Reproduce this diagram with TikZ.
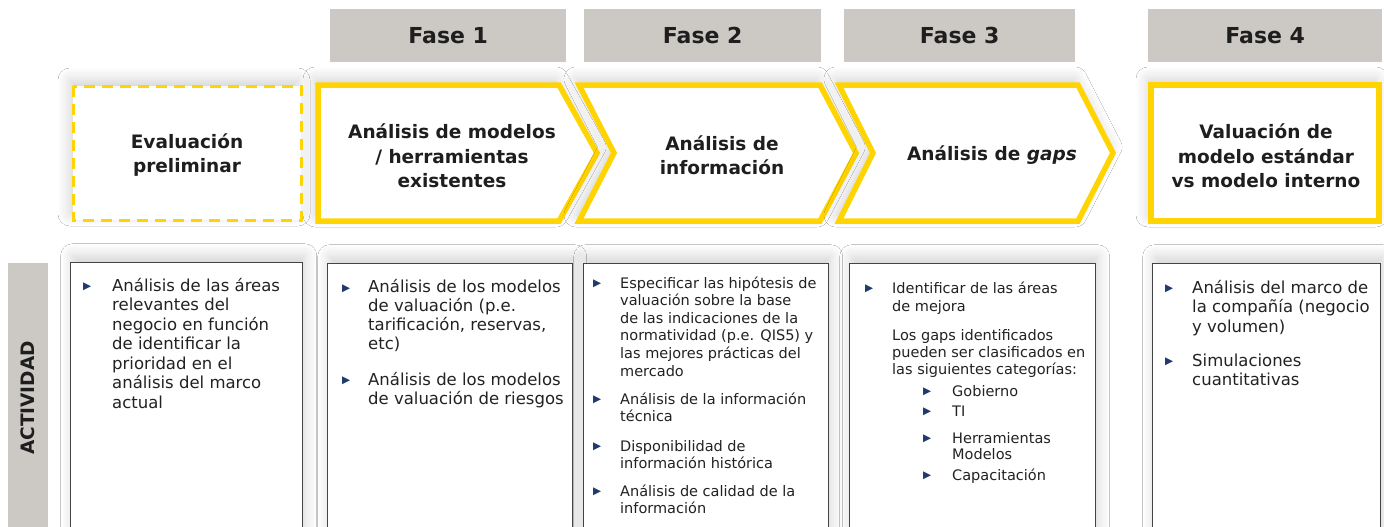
\documentclass[tikz,border=0pt]{standalone}
\usepackage{fontspec}
\setmainfont{DejaVu Sans}
\usetikzlibrary{shadows.blur}
\definecolor{eyyellow}{HTML}{FFD400}
\definecolor{hdrgray}{HTML}{CCC9C4}
\definecolor{txtdark}{HTML}{1E1E1E}
\definecolor{txtbody}{HTML}{222222}
\definecolor{navy}{HTML}{1F3A6E}
\definecolor{boxedge}{HTML}{444444}
\newcommand{\bulglyph}{\textcolor{navy}{\fontsize{10.5}{10.5}\selectfont ▶}}
\tikzset{
  fasebox/.style={fill=hdrgray, draw=none, minimum height=53pt, anchor=north west, inner sep=0pt,
    font=\bfseries\fontsize{22}{26}\selectfont, text=txtdark},
  softshadow/.style={blur shadow={shadow xshift=-3pt, shadow yshift=6pt, shadow blur radius=12pt, shadow blur steps=12, shadow opacity=18}},
  chev/.style={draw=eyyellow, line width=5.5pt, fill=white, line join=miter, softshadow},
  headtxt/.style={align=center, inner sep=0pt, text=txtdark, font=\bfseries\fontsize{18.5}{24.5}\selectfont},
  actbox/.style={draw=boxedge, line width=1.4pt, fill=white, anchor=north west, inner sep=0pt,
    blur shadow={shadow xshift=2pt, shadow yshift=7pt, shadow blur radius=12pt, shadow blur steps=12, shadow opacity=18}},
  bul/.style={anchor=base west, inner sep=0pt},
  itemtxt/.style={anchor=base west, inner sep=0pt, align=left, text=txtbody},
  bigtxt/.style={itemtxt, font=\fontsize{16.5}{19.5}\selectfont},
  midtxt/.style={itemtxt, font=\fontsize{16.5}{18.7}\selectfont},
  smalltxt/.style={itemtxt, font=\fontsize{14.5}{17.6}\selectfont},
}
\begin{document}
\begin{tikzpicture}[x=1pt,y=-1pt]
\clip (0,0) rectangle (1384,527);
\fill[white] (0,0) rectangle (1384,527);

% phase headers
\node[fasebox, minimum width=236pt] (f1) at (330,9) {Fase 1};
\node[fasebox, minimum width=237pt] (f2) at (584,9) {Fase 2};
\node[fasebox, minimum width=231pt] (f3) at (844,9) {Fase 3};
\node[fasebox, minimum width=234pt] (f4) at (1148,9) {Fase 4};

% top row shapes
\path[fill=white, softshadow] (73,86) rectangle (301,220);
\draw[eyyellow, line width=3pt, dash pattern=on 11pt off 7pt] (73,86) rectangle (301,220);
\draw[chev] (318,85) -- (559,85) -- (597,153) -- (559,221) -- (318,221) -- cycle;
\draw[chev] (579,85) -- (820,85) -- (856,153) -- (820,221) -- (579,221) -- (614,153) -- cycle;
\draw[chev] (839,85) -- (1078,85) -- (1113,153) -- (1078,221) -- (839,221) -- (873,153) -- cycle;
\draw[chev] (1151,85) rectangle (1379,221);

\node[headtxt] (h0) at (187,155) {Evaluación\\preliminar};
\node[headtxt] (h1) at (452,156) {Análisis de modelos\\/ herramientas\\existentes};
\node[headtxt] (h2) at (722,155) {Análisis de\\información};
\node[headtxt] (h3) at (992,155) {Análisis de \textit{gaps}};
\node[headtxt] (h4) at (1266,156) {Valuación de\\modelo estándar\\vs modelo interno};

% activity label
\node[fill=hdrgray, minimum width=40pt, minimum height=290pt, anchor=north west, inner sep=0pt] (act) at (8,263) {};
\node[rotate=90, font=\bfseries\fontsize{18.5}{20}\selectfont, text=txtdark] (actlbl) at (28,398) {ACTIVIDAD};

% activity boxes
\node[actbox, minimum width=232pt, minimum height=300pt] (b1) at (70,262) {};
\node[actbox, minimum width=245pt, minimum height=300pt] (b2) at (327,263) {};
\node[actbox, minimum width=245pt, minimum height=300pt] (b3) at (583,263) {};
\node[actbox, minimum width=246pt, minimum height=300pt] (b4) at (849,263) {};
\node[actbox, minimum width=228pt, minimum height=300pt] (b5) at (1152,263) {};

% box 1 (anchor = baseline of last line)
\node[bul] (u1a) at (83,289) {\bulglyph};
\node[bigtxt] (t1a) at (112,408)
  {Análisis de las áreas\\relevantes del\\negocio en función\\de identificar la\\prioridad en el\\análisis del marco\\actual};

% box 2
\node[bul] (u2a) at (342,291) {\bulglyph};
\node[midtxt] (t2a) at (368,349)
  {Análisis de los modelos\\de valuación (p.e.\\tarificación, reservas,\\etc)};
\node[bul] (u2b) at (342,383) {\bulglyph};
\node[midtxt] (t2b) at (368,404)
  {Análisis de los modelos\\de valuación de riesgos};

% box 3
\node[bul] (u3a) at (593,286) {\bulglyph};
\node[smalltxt] (t3a) at (620,376)
  {Especificar las hipótesis de\\valuación sobre la base\\de las indicaciones de la\\normatividad (p.e. QIS5) y\\las mejores prácticas del\\mercado};
\node[bul] (u3b) at (593,402) {\bulglyph};
\node[smalltxt] (t3b) at (620,421.6)
  {Análisis de la información\\técnica};
\node[bul] (u3c) at (593,449) {\bulglyph};
\node[smalltxt] (t3c) at (620,468.6)
  {Disponibilidad de\\información histórica};
\node[bul] (u3d) at (593,494) {\bulglyph};
\node[smalltxt] (t3d) at (620,513.6)
  {Análisis de calidad de la\\información};

% box 4
\node[bul] (u4a) at (865,291) {\bulglyph};
\node[itemtxt, font=\fontsize{14.5}{18}\selectfont] (t4a) at (892,311)
  {Identificar de las áreas\\de mejora};
\node[itemtxt, font=\fontsize{14.5}{17}\selectfont] (t4b) at (892,374)
  {Los gaps identificados\\pueden ser clasificados en\\las siguientes categorías:};
\node[bul] (u4c) at (923,394) {\bulglyph};
\node[smalltxt] (t4c) at (952,396) {Gobierno};
\node[bul] (u4d) at (923,414) {\bulglyph};
\node[smalltxt] (t4d) at (952,416) {TI};
\node[bul] (u4e) at (923,441) {\bulglyph};
\node[itemtxt, font=\fontsize{14.5}{16}\selectfont] (t4e) at (952,459) {Herramientas\\Modelos};
\node[bul] (u4f) at (923,478) {\bulglyph};
\node[smalltxt] (t4f) at (952,480) {Capacitación};

% box 5
\node[bul] (u5a) at (1165,291) {\bulglyph};
\node[bigtxt] (t5a) at (1192,332)
  {Análisis del marco de\\la compañía (negocio\\y volumen)};
\node[bul] (u5b) at (1165,364) {\bulglyph};
\node[bigtxt] (t5b) at (1192,385.5)
  {Simulaciones\\cuantitativas};
\end{tikzpicture}
\end{document}
